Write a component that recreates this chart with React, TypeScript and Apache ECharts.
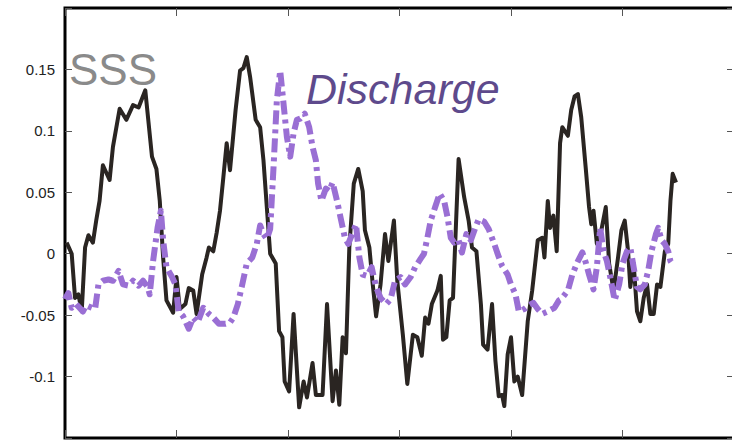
import React, { useEffect, useRef } from "react";
import * as echarts from "echarts";

const sssX = [0.015,0.06,0.09,0.12,0.15,0.18,0.21,0.25,0.28,0.31,0.34,0.40,0.43,0.49,0.55,0.61,0.66,0.72,0.78,0.82,0.85,0.88,0.91,0.97,1.00,1.03,1.08,1.11,1.15,1.18,1.23,1.27,1.29,1.33,1.36,1.39,1.42,1.45,1.48,1.53,1.57,1.60,1.63,1.66,1.71,1.75,1.78,1.81,1.84,1.89,1.92,1.95,1.97,2.01,2.05,2.08,2.10,2.14,2.17,2.22,2.25,2.31,2.35,2.40,2.43,2.46,2.49,2.52,2.55,2.59,2.63,2.67,2.69,2.73,2.76,2.79,2.83,2.87,2.90,2.95,2.98,3.03,3.07,3.12,3.16,3.20,3.23,3.26,3.29,3.34,3.37,3.39,3.42,3.45,3.48,3.53,3.58,3.62,3.65,3.69,3.73,3.75,3.79,3.83,3.86,3.89,3.92,3.94,3.97,4.00,4.03,4.06,4.10,4.15,4.19,4.24,4.28,4.30,4.33,4.35,4.38,4.41,4.44,4.46,4.51,4.54,4.57,4.60,4.63,4.67,4.70,4.72,4.74,4.77,4.81,4.85,4.88,4.92,4.96,4.99,5.02,5.05,5.07,5.10,5.13,5.16,5.19,5.22,5.25,5.28,5.31,5.34,5.38,5.41,5.43,5.45,5.48];
const sssY = [0.009,0,-0.036,-0.033,-0.047,0.005,0.015,0.009,0.027,0.043,0.072,0.060,0.087,0.118,0.109,0.121,0.119,0.133,0.079,0.069,0.043,-0.003,-0.038,-0.048,-0.019,-0.045,-0.041,-0.028,-0.030,-0.049,-0.017,-0.003,0.005,0.002,0.017,0.035,0.062,0.090,0.068,0.117,0.149,0.151,0.160,0.144,0.109,0.103,0.076,0.038,0.000,-0.008,-0.063,-0.068,-0.104,-0.112,-0.049,-0.095,-0.125,-0.104,-0.117,-0.089,-0.115,-0.115,-0.041,-0.120,-0.095,-0.123,-0.068,-0.081,0.005,0.057,0.069,0.051,0.019,0.005,-0.025,-0.051,-0.025,0.016,-0.006,0.027,-0.022,-0.066,-0.106,-0.066,-0.068,-0.083,-0.052,-0.057,-0.041,-0.030,-0.018,-0.070,-0.068,-0.038,-0.036,0.077,0.046,0.027,0.005,0.002,-0.041,-0.074,-0.078,-0.041,-0.087,-0.116,-0.115,-0.124,-0.082,-0.068,-0.104,-0.100,-0.115,-0.055,-0.030,0.011,0.013,-0.003,0.043,0.021,0.031,0.002,0.090,0.103,0.096,0.117,0.128,0.130,0.111,0.070,0.038,0.024,0.035,0.008,0.019,0.038,-0.008,-0.030,-0.003,0.019,0.027,0.002,-0.027,-0.008,-0.047,-0.055,-0.036,-0.025,-0.049,-0.049,-0.025,-0.027,0.002,0.008,0.043,0.065,0.058];

const dischargeX = [0.00,0.03,0.06,0.10,0.13,0.16,0.19,0.24,0.27,0.30,0.34,0.39,0.43,0.48,0.52,0.57,0.61,0.66,0.70,0.74,0.76,0.79,0.83,0.86,0.88,0.91,0.96,0.99,1.02,1.06,1.11,1.15,1.19,1.24,1.29,1.33,1.38,1.44,1.48,1.51,1.55,1.59,1.63,1.68,1.72,1.75,1.78,1.81,1.84,1.87,1.90,1.93,1.96,1.99,2.02,2.05,2.08,2.11,2.15,2.19,2.22,2.25,2.27,2.30,2.34,2.37,2.40,2.44,2.47,2.51,2.54,2.58,2.61,2.64,2.67,2.71,2.75,2.79,2.83,2.88,2.92,2.96,3.01,3.05,3.10,3.14,3.19,3.22,3.25,3.28,3.32,3.36,3.40,3.43,3.46,3.49,3.53,3.56,3.60,3.64,3.68,3.71,3.76,3.80,3.85,3.88,3.92,3.97,4.00,4.04,4.07,4.12,4.16,4.20,4.24,4.28,4.33,4.39,4.43,4.45,4.51,4.55,4.60,4.64,4.67,4.70,4.74,4.77,4.80,4.83,4.86,4.89,4.93,4.97,5.00,5.04,5.07,5.10,5.13,5.16,5.20,5.23,5.26,5.30,5.32,5.35,5.38,5.41,5.43,5.46];
const dischargeY = [-0.037,-0.032,-0.044,-0.041,-0.044,-0.047,-0.042,-0.044,-0.045,-0.025,-0.022,-0.021,-0.022,-0.014,-0.025,-0.026,-0.022,-0.026,-0.022,-0.027,-0.033,-0.006,0.021,0.035,0.011,-0.011,-0.019,-0.025,-0.047,-0.051,-0.061,-0.052,-0.056,-0.044,-0.049,-0.052,-0.057,-0.057,-0.056,-0.052,-0.041,-0.025,-0.008,-0.003,0.008,0.023,0.016,0.012,0.020,0.070,0.125,0.149,0.122,0.095,0.079,0.098,0.109,0.110,0.114,0.103,0.087,0.076,0.057,0.043,0.053,0.051,0.058,0.043,0.030,0.013,0.008,0.017,0.024,-0.003,-0.017,-0.018,-0.011,-0.027,-0.036,-0.041,-0.037,-0.022,-0.019,-0.025,-0.019,-0.011,-0.004,0.000,0.013,0.027,0.038,0.049,0.043,0.030,0.013,0.009,0.011,0.001,0.016,0.011,0.021,0.028,0.026,0.020,0.008,0.000,-0.010,-0.017,-0.025,-0.033,-0.047,-0.045,-0.042,-0.040,-0.045,-0.049,-0.047,-0.044,-0.038,-0.037,-0.030,-0.017,-0.006,0.001,-0.007,-0.017,-0.029,-0.011,0.021,0.002,-0.006,-0.019,-0.038,-0.025,-0.008,0.002,0.005,-0.011,-0.027,-0.029,-0.025,-0.014,0.002,0.016,0.021,0.011,0.008,0.002,-0.006,-0.010];

const yTickLabels = ["-0.1", "-0.05", "0", "0.05", "0.1", "0.15"];
const seriesNames = ["SSS", "Discharge"];

const FONT = "'Liberation Sans', Arial, sans-serif";

export default function App() {
  const ref = useRef<HTMLDivElement>(null);
  useEffect(() => {
    document.body.style.margin = "0";
    if (!ref.current) return;
    const chart = echarts.init(ref.current, undefined, { renderer: "svg" });
    const sssData = sssX.map((x, i) => [x, sssY[i]]);
    const disData = dischargeX.map((x, i) => [x, dischargeY[i]]);
    const fmt = (v: number) => {
      const r = Math.round(v * 100) / 100;
      const s = String(r);
      return yTickLabels.includes(s) ? s : "";
    };
    const xBase = {
      type: "value" as const,
      min: 0,
      max: 6,
      interval: 1,
      axisLabel: { show: false },
      splitLine: { show: false },
      axisLine: { show: false, onZero: false },
      axisTick: { show: true, inside: true, length: 8, lineStyle: { color: "#555", width: 1 } },
    };
    const yBase = {
      type: "value" as const,
      min: -0.15,
      max: 0.2,
      interval: 0.05,
      splitLine: { show: false },
      axisLine: { show: false, onZero: false },
      axisTick: { show: true, inside: true, length: 7, lineStyle: { color: "#555", width: 1 } },
    };
    chart.setOption({
      animation: false,
      backgroundColor: "#ffffff",
      grid: {
        left: 65, right: 6, top: 8, bottom: 5, containLabel: false,
        show: true, borderColor: "#000", borderWidth: 3, backgroundColor: "transparent",
      },
      xAxis: [
        { ...xBase, position: "bottom" },
        { ...xBase, position: "top" },
      ],
      yAxis: [
        {
          ...yBase,
          position: "left",
          axisLabel: { show: true, margin: 10, formatter: fmt, color: "#222", fontSize: 15, fontFamily: FONT },
        },
        {
          ...yBase,
          position: "right",
          axisLabel: { show: false },
        },
      ],
      series: [
        {
          name: seriesNames[0],
          type: "line",
          data: sssData,
          showSymbol: false,
          symbol: "none",
          lineStyle: { color: "#2a2522", width: 4, join: "round" },
          z: 2,
        },
        {
          name: seriesNames[1],
          type: "line",
          data: disData,
          showSymbol: false,
          symbol: "none",
          lineStyle: { color: "#9a6fd4", width: 6, type: [14, 5, 4, 5], cap: "butt", join: "round" },
          z: 3,
        },
      ],
      graphic: [
        {
          type: "text",
          left: 69,
          top: 47,
          style: { text: seriesNames[0], fill: "#8a8a8a", fontSize: 44, fontFamily: FONT },
          z: 10,
        },
        {
          type: "text",
          left: 306,
          top: 67,
          style: { text: seriesNames[1], fill: "#5e4a8c", fontSize: 43, fontStyle: "italic", fontFamily: FONT },
          z: 10,
        },
      ],
    });
    return () => chart.dispose();
  }, []);
  return (
    <div style={{ width: 732, height: 443, overflow: "hidden", position: "relative" }}>
      <div ref={ref} style={{ width: 740, height: 443 }} />
    </div>
  );
}
